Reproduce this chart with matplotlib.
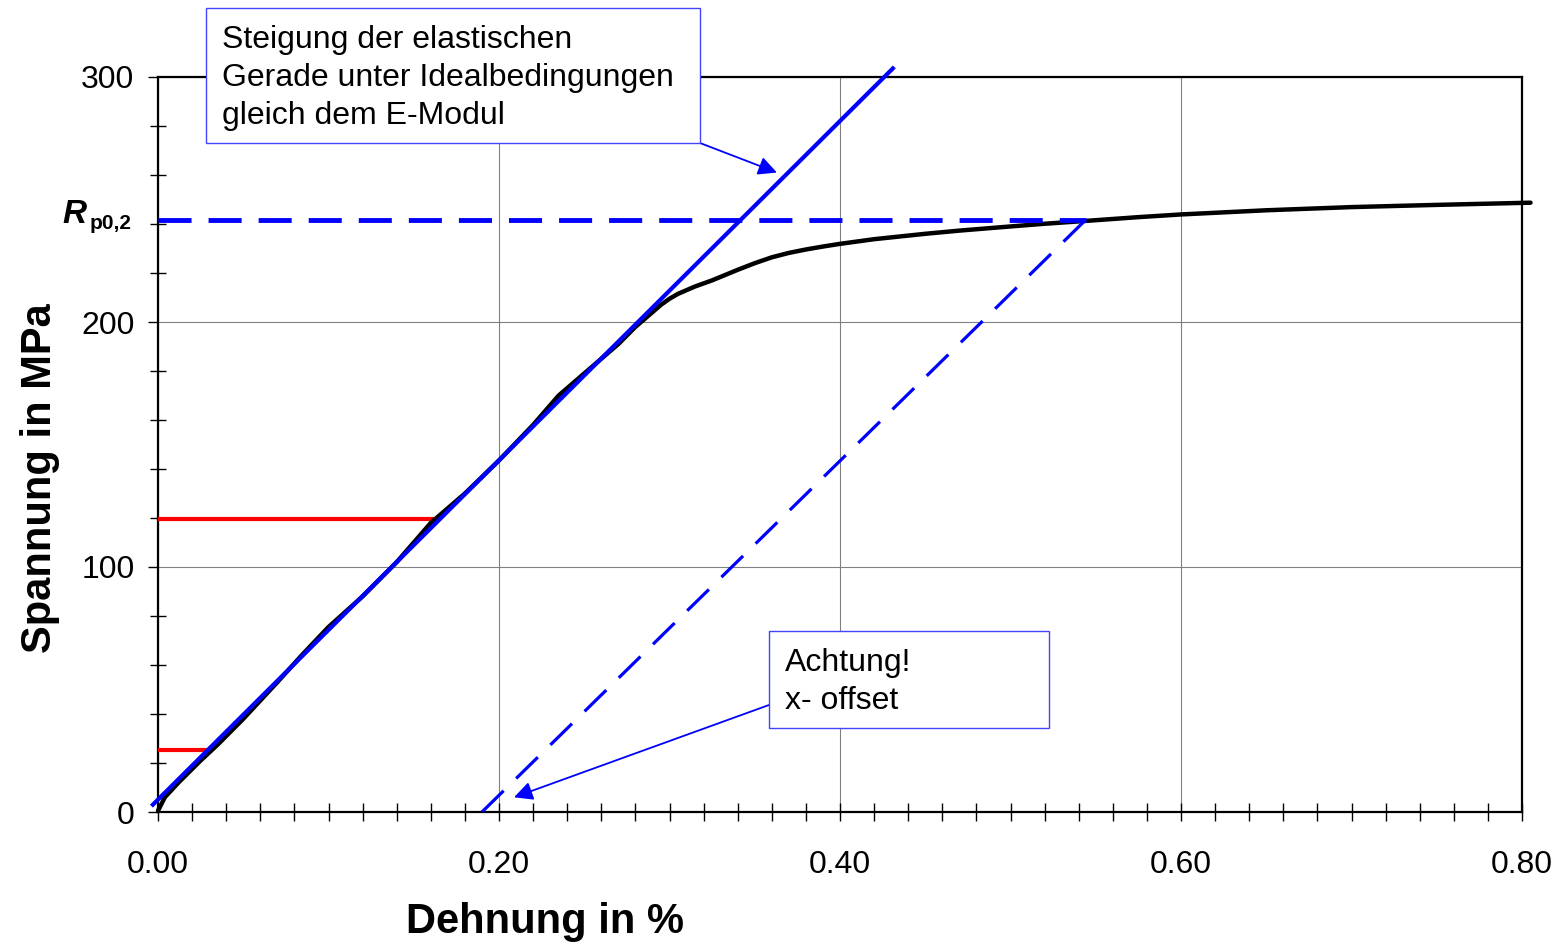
import matplotlib
matplotlib.use("Agg")
import matplotlib.pyplot as plt
from matplotlib.patches import Rectangle
from matplotlib.ticker import MultipleLocator, FormatStrFormatter
from matplotlib.transforms import blended_transform_factory

plt.rcParams['font.family'] = ['Liberation Sans', 'DejaVu Sans']

# Messkurve (Dehnung in %, Spannung in MPa)
strain = [0.0, 0.004, 0.012, 0.025, 0.035, 0.05, 0.07, 0.085, 0.10, 0.12, 0.14,
          0.16, 0.18, 0.20, 0.22, 0.235, 0.25, 0.27, 0.28, 0.29, 0.295, 0.30, 0.305,
          0.31, 0.315, 0.325, 0.34, 0.35, 0.36, 0.37, 0.38, 0.39, 0.40, 0.42, 0.45,
          0.47, 0.50, 0.52, 0.545, 0.575, 0.60, 0.65, 0.70, 0.75, 0.805]
stress = [0.5, 6.0, 12.0, 21.0, 27.5, 38.0, 53.0, 64.5, 75.5, 88.0, 102.0,
          118.0, 130.0, 143.5, 158.0, 170.0, 179.0, 191.0, 198.0, 204.0, 207.0, 209.5, 211.5,
          213.0, 214.5, 217.0, 221.3, 224.0, 226.4, 228.2, 229.6, 230.8, 231.9, 233.8, 236.0,
          237.3, 239.0, 240.1, 241.3, 242.8, 243.9, 245.6, 246.9, 247.8, 248.7]

# elastische Gerade (E-Modul)
elastic_x = [-0.003, 0.431]
elastic_y = [3.0, 303.5]

# Rp0,2 und Parallele mit Offset
rp02 = 241.6
rp_x = [0.0, 0.544]
offset_x = [0.19, 0.544]
offset_y = [0.0, 241.6]

# rote Markierungen
red_y = [25.5, 119.6]
red_xend = [0.032, 0.162]

W, H = 1563, 944
def fx(px):
    return px / W
def fy(py):
    return 1 - py / H

fig = plt.figure(figsize=(W / 100, H / 100), dpi=100)
ax = fig.add_axes([fx(158), fy(812), fx(1522) - fx(158), fy(77) - fy(812)])

ax.plot(strain, stress, color='black', lw=3.2, clip_on=False, zorder=4,
        solid_capstyle='round', solid_joinstyle='round')
ax.plot(elastic_x, elastic_y, color='#0000ff', lw=3, clip_on=False, zorder=5)
ax.plot(rp_x, [rp02, rp02], color='#0000ff', lw=3.5, ls=(0, (6.8, 3.5)), zorder=5)
ax.plot(offset_x, offset_y, color='#0000ff', lw=2.3, ls=(0, (9.5, 5.5)), zorder=5)
for yv, xe in zip(red_y, red_xend):
    ax.plot([0, xe], [yv, yv], color='red', lw=3, zorder=3, solid_capstyle='butt')

ax.set_xlim(0, 0.8)
ax.set_ylim(0, 300)
ax.xaxis.set_major_locator(MultipleLocator(0.2))
ax.xaxis.set_minor_locator(MultipleLocator(0.02))
ax.yaxis.set_major_locator(MultipleLocator(100))
ax.yaxis.set_minor_locator(MultipleLocator(20))
ax.xaxis.set_major_formatter(FormatStrFormatter('%.2f'))
ax.grid(True, which='major', color='#808080', lw=0.8)
ax.set_axisbelow(True)

ax.tick_params(axis='x', which='both', direction='inout', length=13, width=1, labelsize=23, pad=21)
ax.tick_params(axis='y', which='major', direction='out', length=7, width=1, labelsize=23, pad=10)
ax.tick_params(axis='y', which='minor', direction='inout', length=11, width=1)
for s in ax.spines.values():
    s.set_linewidth(1.6)

ax.set_xlabel('Dehnung in %', fontsize=30, fontweight='bold')
ax.xaxis.set_label_coords(0.284, -0.123)
ax.set_ylabel('Spannung in MPa', fontsize=30, fontweight='bold')
ax.yaxis.set_label_coords(-0.072, 0.454)

# Rp0,2 Beschriftung
tr = blended_transform_factory(fig.transFigure, ax.transData)
ax.text(fx(62), rp02 - 1, 'R', transform=tr, fontsize=24, fontweight='bold',
        fontstyle='italic', ha='left', va='baseline')
ax.text(fx(90), rp02 - 3.5, 'p0,2', transform=tr, fontsize=15, fontweight='bold',
        ha='left', va='baseline')

# Textboxen
box_col = '#4444ff'
fig.patches.append(Rectangle((fx(206), fy(143)), fx(700) - fx(206), fy(8) - fy(143),
                             transform=fig.transFigure, facecolor='white',
                             edgecolor=box_col, lw=1, zorder=6))
fig.text(fx(222), fy(78), 'Steigung der elastischen\nGerade unter Idealbedingungen\ngleich dem E-Modul',
         fontsize=23, ha='left', va='center', linespacing=1.34, zorder=7)
fig.patches.append(Rectangle((fx(769), fy(728)), fx(1049) - fx(769), fy(631) - fy(728),
                             transform=fig.transFigure, facecolor='white',
                             edgecolor=box_col, lw=1, zorder=6))
fig.text(fx(785), fy(682), 'Achtung!\nx- offset', fontsize=23, ha='left', va='center',
         linespacing=1.34, zorder=7)

arrow = dict(arrowstyle='-|>', color='#0000ff', lw=1.3, mutation_scale=28,
             shrinkA=0, shrinkB=0)
ax.annotate('', xy=(0.363, 261.0), xycoords='data', xytext=(700, H - 143),
            textcoords='figure pixels', arrowprops=arrow, annotation_clip=False)
ax.annotate('', xy=(0.2088, 6.0), xycoords='data', xytext=(769, H - 705),
            textcoords='figure pixels', arrowprops=arrow, annotation_clip=False)

fig.savefig('out.png', dpi=100)
